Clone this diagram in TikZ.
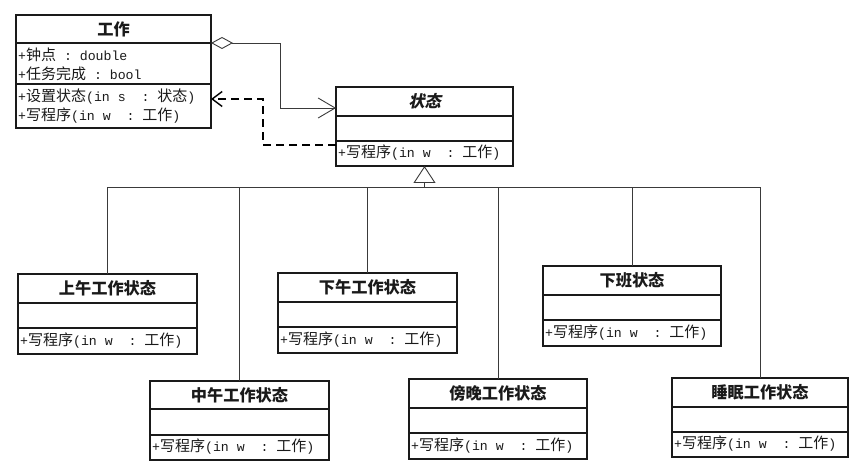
\documentclass[tikz,border=0pt]{standalone}
\usepackage{fontspec}
\setmonofont{Liberation Mono}
\newfontfamily\cjk{Noto Sans CJK SC}
\newfontfamily\cjkslant{Noto Sans CJK SC}[FakeSlant=0.22]
\usetikzlibrary{arrows.meta,calc}
\newcommand\Z[1]{{\cjk\fontsize{15}{17}\selectfont #1}}
\newcommand\M[1]{{\ttfamily\fontsize{13.2}{16}\selectfont #1}}
\newcommand\T[1]{{\cjk\bfseries\fontsize{16.2}{18}\selectfont #1}}
\newcommand\umlclass[8]{%
  \node[clsbox, minimum width={(#4-#2)*1pt}, minimum height={(#5-#3)*1pt}] (#1) at ({(#2+#4)/2},{(#3+#5)/2}) {};
  \draw[sepline] ({#2},{#6}) -- ({#4},{#6});
  \draw[sepline] ({#2},{#7}) -- ({#4},{#7});
  \node[txt] (#1-title) at ({(#2+#4)/2},{(#3+#6)/2}) {#8};
}
\newcommand\opwrite[1]{%
  \node[txt, anchor=west] (#1-op) at ([xshift=2pt,yshift=13pt]#1.south west) {\M{+}\Z{写程序}\M{(in w\ \ : }\Z{工作}\M{)}};
}
\definecolor{ink}{HTML}{1A1A1A}
\definecolor{wire}{HTML}{3A3A3A}
\tikzset{
  clsbox/.style={draw=ink, line width=1.2pt, inner sep=0pt, outer sep=0pt, fill=white},
  sepline/.style={draw=ink, line width=1.1pt},
  txt/.style={inner sep=0pt, text=ink},
  conn/.style={draw=wire, line width=0.9pt},
  dep/.style={draw=black, line width=2.4pt, dash pattern=on 8pt off 5pt},
}
\begin{document}
\begin{tikzpicture}[x=1pt,y=-1pt]
\useasboundingbox (0,0) rectangle (863,476);
% classes
\umlclass{work}{16}{15}{211}{128}{43}{84}{\T{工作}}
\node[txt, anchor=west] (work-a1) at (18,55) {\M{+}\Z{钟点}\M{ : double}};
\node[txt, anchor=west] (work-a2) at (18,74) {\M{+}\Z{任务完成}\M{ : bool}};
\node[txt, anchor=west] (work-o1) at (18,97) {\M{+}\Z{设置状态}\M{(in s\ \ : }\Z{状态}\M{)}};
\node[txt, anchor=west] (work-o2) at (18,116) {\M{+}\Z{写程序}\M{(in w\ \ : }\Z{工作}\M{)}};

\umlclass{state}{336}{87}{513}{166}{116}{141}{{\cjkslant\bfseries\fontsize{16.2}{18}\selectfont 状态}}
\opwrite{state}

\umlclass{am}{18}{274}{197}{354}{303}{328}{\T{上午工作状态}}
\opwrite{am}
\umlclass{noon}{150}{381}{329}{460}{409}{435}{\T{中午工作状态}}
\opwrite{noon}
\umlclass{pm}{278}{273}{457}{353}{302}{327}{\T{下午工作状态}}
\opwrite{pm}
\umlclass{eve}{409}{379}{587}{459}{408}{433}{\T{傍晚工作状态}}
\opwrite{eve}
\umlclass{off}{543}{266}{721}{346}{295}{320}{\T{下班状态}}
\opwrite{off}
\umlclass{sleep}{672}{378}{848}{457}{407}{432}{\T{睡眠工作状态}}
\opwrite{sleep}

% aggregation
\draw[conn, {Diamond[open,length=22pt,width=12pt,fill=white]}-{Straight Barb[length=17pt,width=20pt]}]
  ([yshift=-28pt]work.north east) -- ++(69,0) |- ([yshift=-21pt]state.north west);
% dependency
\coordinate (depcorner) at (263,99);
\draw[dep, -{Straight Barb[length=10pt,width=15pt,line width=1.4pt]}]
  ([yshift=-58pt]state.north west) -| (depcorner) -- (depcorner -| work.east);
% inheritance
\coordinate (hub) at (state.south |- 0,187);
\draw[conn] (hub -| am.north) -- (hub -| sleep.north);
\foreach \n in {am,noon,pm,eve,off,sleep} { \draw[conn] (\n.north) -- (hub -| \n.north); }
\draw[conn, -{Triangle[open,length=17pt,width=22pt,fill=white]}] (hub) -- (state.south);
\end{tikzpicture}
\end{document}
